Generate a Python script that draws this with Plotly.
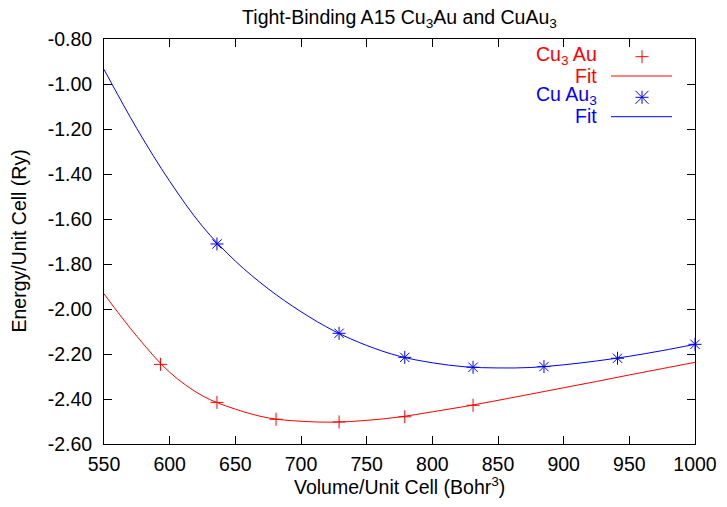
import plotly.graph_objects as go

# ---- data ----
vol_cu3au = [593, 636, 681, 729, 779, 831]
e_cu3au = [-2.246, -2.415, -2.490, -2.502, -2.479, -2.428]

vol_cuau3 = [636, 729, 779, 831, 885, 941, 1000]
e_cuau3 = [-1.711, -2.108, -2.215, -2.259, -2.256, -2.219, -2.157]

fit_vol = [550, 575, 600, 625, 650, 675, 700, 725, 750, 775,
           800, 825, 850, 875, 900, 925, 950, 975, 1000]
fit_cu3au = [-1.933, -2.121, -2.281, -2.386, -2.445, -2.484, -2.499, -2.503, -2.495, -2.480,
             -2.457, -2.433, -2.406, -2.378, -2.350, -2.322, -2.293, -2.265, -2.237]
fit_cuau3 = [-0.935, -1.198, -1.432, -1.633, -1.787, -1.910, -2.012, -2.097, -2.162, -2.210,
             -2.239, -2.257, -2.262, -2.260, -2.248, -2.231, -2.210, -2.185, -2.157]

x_tick_vals = [550, 600, 650, 700, 750, 800, 850, 900, 950, 1000]
x_tick_text = ["550", "600", "650", "700", "750", "800", "850", "900", "950", "1000"]
y_tick_vals = [-2.6, -2.4, -2.2, -2.0, -1.8, -1.6, -1.4, -1.2, -1.0, -0.8]
y_tick_text = ["-2.60", "-2.40", "-2.20", "-2.00", "-1.80", "-1.60", "-1.40", "-1.20", "-1.00", "-0.80"]

title_text = "Tight-Binding A15 Cu<sub>3</sub>Au and CuAu<sub>3</sub>"
x_title = "Volume/Unit Cell (Bohr<sup>3</sup>)"
y_title = "Energy/Unit Cell (Ry)"
legend_labels = ["Cu<sub>3</sub> Au", "Fit", "Cu Au<sub>3</sub>", "Fit"]

RED = "#ff0000"
BLUE = "#0000ff"
FONT = "Liberation Sans, Arial, sans-serif"
FS = 19.5

# ---- layout geometry (pixels) ----
W, H = 727, 507
L, T = 104, 39
PW, PH = 591, 405
R, B = W - L - PW, H - T - PH


def px_x(px):
    """page pixel x -> paper fraction"""
    return (px - L) / PW


def px_y(py):
    """page pixel y -> paper fraction"""
    return (T + PH - py) / PH


fig = go.Figure()

fig.add_trace(go.Scatter(x=vol_cu3au, y=e_cu3au, mode="markers", cliponaxis=False,
                         marker=dict(symbol="cross-thin", size=9.3, color=RED,
                                     line=dict(color=RED, width=1)),
                         showlegend=False))
fig.add_trace(go.Scatter(x=fit_vol, y=fit_cu3au, mode="lines", line_shape="spline",
                         line=dict(color=RED, width=1), showlegend=False))
fig.add_trace(go.Scatter(x=vol_cuau3, y=e_cuau3, mode="markers", cliponaxis=False,
                         marker=dict(symbol="cross-thin", size=9.3, color=BLUE,
                                     line=dict(color=BLUE, width=1)),
                         showlegend=False))
fig.add_trace(go.Scatter(x=vol_cuau3, y=e_cuau3, mode="markers", cliponaxis=False,
                         marker=dict(symbol="x-thin", size=9.3, color=BLUE,
                                     line=dict(color=BLUE, width=1)),
                         showlegend=False))
fig.add_trace(go.Scatter(x=fit_vol, y=fit_cuau3, mode="lines", line_shape="spline",
                         line=dict(color=BLUE, width=1), showlegend=False))

# ---- hand-made gnuplot-style key (text left, sample right) ----
key_text_right = 599
key_rows = [55, 75.5, 95, 116.5]
key_colors = [RED, RED, BLUE, BLUE]
annotations = []
for lab, yy, col in zip(legend_labels, key_rows, key_colors):
    annotations.append(dict(text=lab, xref="paper", yref="paper",
                            x=px_x(key_text_right), y=px_y(yy),
                            xanchor="right", yanchor="middle", showarrow=False,
                            font=dict(family=FONT, size=FS, color=col)))

annotations.append(dict(text=x_title, xref="paper", yref="paper",
                        x=0.5, y=px_y(486), xanchor="center", yanchor="middle",
                        showarrow=False, font=dict(family=FONT, size=FS, color="black")))
annotations.append(dict(text=y_title, xref="paper", yref="paper", textangle=-90,
                        x=px_x(18), y=0.5, xanchor="center", yanchor="middle",
                        showarrow=False, font=dict(family=FONT, size=FS, color="black")))

shapes = []
key_x0, key_x1, key_mx = 611, 672, 642
for yy, col in [(76, RED), (116.7, BLUE)]:
    shapes.append(dict(type="line", xref="paper", yref="paper",
                       x0=px_x(key_x0), x1=px_x(key_x1), y0=px_y(yy), y1=px_y(yy),
                       line=dict(color=col, width=1)))
s = 6.5
# "+" sample
for seg in [(-s, 0, s, 0), (0, -s, 0, s)]:
    shapes.append(dict(type="line", xref="paper", yref="paper",
                       xsizemode="pixel", ysizemode="pixel",
                       xanchor=px_x(key_mx), yanchor=px_y(56.7),
                       x0=seg[0], y0=seg[1], x1=seg[2], y1=seg[3],
                       line=dict(color=RED, width=1)))
# "*" sample
for seg in [(-s, 0, s, 0), (0, -s, 0, s), (-s, -s, s, s), (-s, s, s, -s)]:
    shapes.append(dict(type="line", xref="paper", yref="paper",
                       xsizemode="pixel", ysizemode="pixel",
                       xanchor=px_x(key_mx), yanchor=px_y(97.3),
                       x0=seg[0], y0=seg[1], x1=seg[2], y1=seg[3],
                       line=dict(color=BLUE, width=1)))

axis_common = dict(showline=True, linecolor="black", linewidth=1, mirror="allticks",
                   ticks="inside", ticklen=8, tickwidth=1, tickcolor="black",
                   showgrid=False, zeroline=False,
                   tickfont=dict(family=FONT, size=FS, color="black"))

fig.update_layout(
    width=W, height=H,
    margin=dict(l=L, r=R, t=T, b=B, autoexpand=False),
    paper_bgcolor="white", plot_bgcolor="white",
    title=dict(text=title_text, x=(L + PW / 2) / W, xref="container",
               xanchor="center", y=1 - 17.5 / H, yanchor="middle",
               font=dict(family=FONT, size=FS, color="black")),
    xaxis=dict(range=[550, 1000], tickvals=x_tick_vals, ticktext=x_tick_text,
               ticklabelstandoff=3, **axis_common),
    yaxis=dict(range=[-2.6, -0.8], tickvals=y_tick_vals, ticktext=y_tick_text,
               ticklabelstandoff=7, **axis_common),
    annotations=annotations,
    shapes=shapes,
    showlegend=False,
)

# remove the browser's default 8px body margin so the figure sits at the window origin
fig.write_html("out.html", config={"displayModeBar": False},
               post_script="document.body.style.margin='0';")
